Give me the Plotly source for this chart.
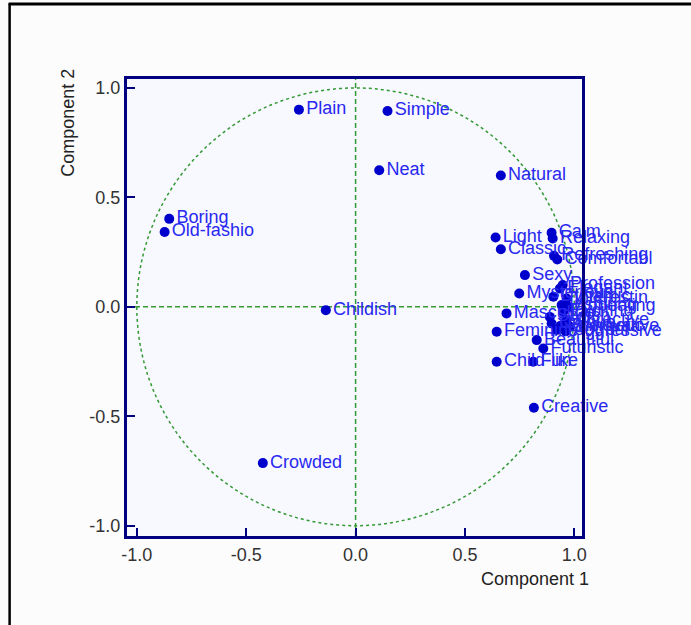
import plotly.graph_objects as go

# ---- data (loadings on Component 1 / Component 2) ----
labels = ["Plain", "Simple", "Neat", "Natural", "Boring", "Old-fashio", "Light", "Classic",
          "Childish", "Crowded", "Creative",
          "Calm", "Relaxing", "Refreshing", "Comfortabl", "Sexy", "Profession", "Elegant",
          "Mysterious", "Interestin", "Dynamic", "Appealing", "Inspiring", "Exciting",
          "Stylish", "Attractive", "Unique", "Innovative", "Youthful", "Energetic",
          "Aggressive", "Masculine", "Feminine", "Beautiful", "Futuristic", "Child-like", "Fun"]
comp1 = [-0.259, 0.146, 0.108, 0.664, -0.852, -0.873, 0.640, 0.664,
         -0.136, -0.424, 0.815,
         0.896, 0.901, 0.907, 0.922, 0.774, 0.947, 0.934,
         0.748, 0.965, 0.904, 0.972, 0.942, 0.949,
         0.888, 0.965, 0.896, 0.980, 0.919, 0.935,
         0.960, 0.690, 0.645, 0.828, 0.858, 0.645, 0.812]
comp2 = [0.901, 0.895, 0.624, 0.600, 0.402, 0.342, 0.317, 0.263,
         -0.015, -0.714, -0.461,
         0.338, 0.312, 0.233, 0.216, 0.145, 0.100, 0.084,
         0.061, 0.038, 0.046, 0.000, 0.008, -0.023,
         -0.046, -0.061, -0.076, -0.091, -0.106, -0.088,
         -0.112, -0.030, -0.114, -0.152, -0.190, -0.251, -0.251]
tick_vals = [-1.0, -0.5, 0.0, 0.5, 1.0]
tick_text = ["-1.0", "-0.5", "0.0", "0.5", "1.0"]

FONT = "Liberation Sans, Arial, sans-serif"
GREEN = "#339933"
NAVY = "#000080"

fig = go.Figure()
fig.add_trace(go.Scatter(
    x=comp1, y=comp2, mode="markers+text", text=labels,
    textposition="middle right",
    textfont=dict(family=FONT, size=18, color="#2828f0"),
    marker=dict(size=10, color="#0000cc", line=dict(width=0)),
    cliponaxis=False, showlegend=False, hoverinfo="text"))

XR = [-1.045, 1.035]
YR = [-1.047, 1.041]

shapes = [
    dict(type="circle", xref="x", yref="y", x0=-1, y0=-1, x1=1, y1=1,
         line=dict(color=GREEN, width=1.5, dash="3px,3px"), layer="below"),
    dict(type="line", xref="x", yref="y", x0=0, x1=0, y0=YR[0], y1=YR[1],
         line=dict(color=GREEN, width=1.5, dash="5px,3px"), layer="below"),
    dict(type="line", xref="x", yref="y", x0=XR[0], x1=XR[1], y0=0, y1=0,
         line=dict(color=GREEN, width=1.5, dash="5px,3px"), layer="below"),
    # outer frame (left and top edges)
    dict(type="line", xref="paper", yref="paper", x0=-0.258, x1=-0.258, y0=1.166, y1=-0.2,
         line=dict(color="black", width=2.5)),
    dict(type="line", xref="paper", yref="paper", x0=-0.26, x1=1.25, y0=1.164, y1=1.164,
         line=dict(color="black", width=3)),
]

axis_common = dict(showgrid=False, zeroline=False, showline=True, linecolor=NAVY,
                   linewidth=3, mirror=True, ticks="inside", ticklen=8, tickwidth=2,
                   tickcolor=NAVY, tickvals=tick_vals, ticktext=tick_text,
                   tickfont=dict(family=FONT, size=18, color="#333333"))

fig.update_layout(
    width=691, height=625,
    margin=dict(l=127, r=109, t=79, b=89),
    paper_bgcolor="#fcfcfc", plot_bgcolor="#f8f8ff",
    xaxis=dict(range=XR, **axis_common),
    yaxis=dict(range=YR, **axis_common),
    shapes=shapes,
    annotations=[
        dict(text="Component 1", xref="paper", yref="paper", x=1.02, y=-0.094,
             xanchor="right", yanchor="middle", showarrow=False,
             font=dict(family=FONT, size=18, color="#222222")),
        dict(text="Component 2", xref="paper", yref="paper", x=-0.13, y=0.904,
             xanchor="center", yanchor="middle", showarrow=False, textangle=-90,
             font=dict(family=FONT, size=18, color="#222222")),
    ],
    font=dict(family=FONT),
)

fig.write_html("out.html",
               config={"displayModeBar": False},
               post_script="document.body.style.margin='0';document.body.style.overflow='hidden';")
